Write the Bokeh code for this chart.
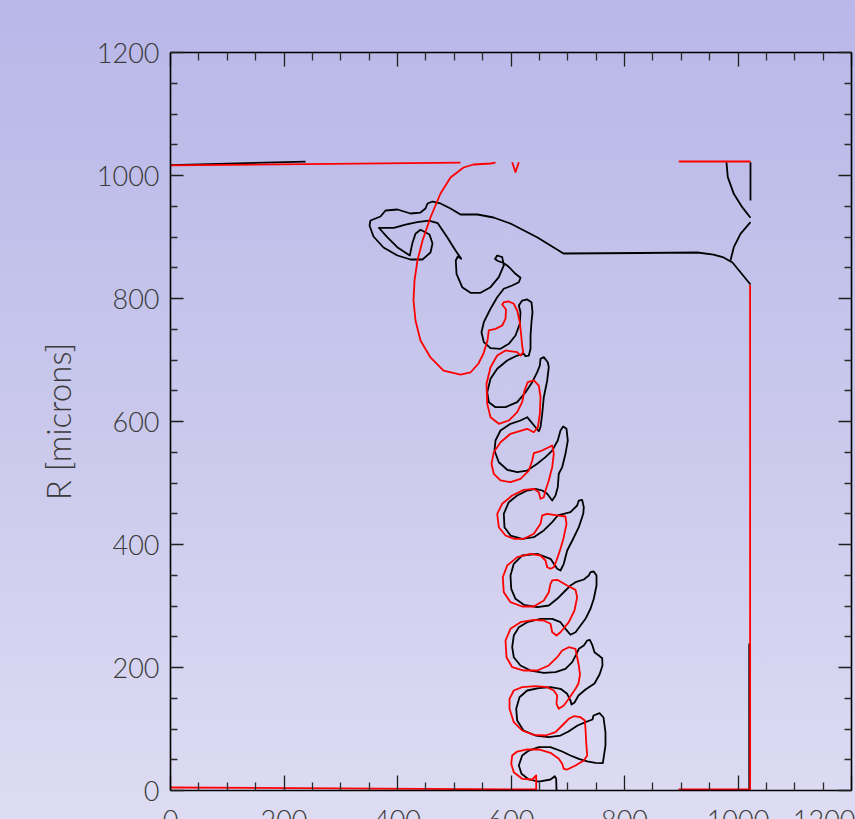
from bokeh.plotting import figure
from bokeh.models import LinearAxis, FixedTicker, Range1d
from bokeh.embed import file_html
from bokeh.resources import INLINE

# ---------------- data (microns) ----------------
TICKS = [0, 200, 400, 600, 800, 1000, 1200]
MINOR_TICKS = [50, 100, 150, 250, 300, 350, 450, 500, 550, 650, 700, 750,
               850, 900, 950, 1050, 1100, 1150]
AXIS_BOUNDS = (0, 1200)
Y_LABEL = "R [microns]"

black_interface = [
    (680.2, 0.0), (679.6, 19.0), (677.2, 23.3), (669.6, 17.9), (649.0, 14.6), (631.4, 17.9),
    (618.5, 27.2), (613.8, 40.7), (619.7, 56.9), (631.4, 65.0), (649.0, 70.4), (669.6, 70.4),
    (690.2, 63.4), (704.8, 56.9), (719.5, 51.5), (734.3, 47.2), (748.9, 45.0), (761.8, 44.4),
    (766.5, 73.2), (766.5, 94.3), (763.0, 118.7), (756.0, 125.7), (745.4, 122.0), (743.6, 115.4),
    (731.3, 111.1), (717.2, 105.7), (701.3, 95.9), (687.2, 89.4), (666.1, 86.7), (643.2, 89.4),
    (622.0, 97.6), (610.9, 113.8), (609.2, 132.8), (615.0, 151.7), (628.5, 162.6), (649.0, 166.3),
    (669.6, 168.0), (687.2, 165.4), (699.0, 157.2), (704.8, 146.3), (706.6, 139.8), (711.9, 143.1),
    (718.9, 154.5), (731.3, 164.2), (747.1, 174.0), (756.0, 188.6), (761.2, 203.3), (760.7, 215.1),
    (754.7, 219.5), (747.1, 224.9), (743.1, 236.9), (738.9, 245.0), (734.3, 243.9), (728.3, 235.8),
    (719.5, 230.4), (715.4, 222.3), (707.8, 208.6), (696.0, 197.9), (678.4, 192.4), (657.8, 191.4),
    (634.4, 195.1), (616.7, 203.3), (604.9, 216.7), (602.1, 233.0), (604.9, 252.0), (613.8, 265.5),
    (628.5, 273.7), (652.0, 279.2), (672.6, 279.2), (687.2, 273.7), (696.0, 262.9), (704.8, 253.2),
    (713.7, 257.4), (722.5, 268.3), (731.3, 279.2), (740.1, 295.5), (745.9, 311.7), (750.7, 333.3),
    (750.7, 349.6), (745.9, 356.1), (740.1, 355.0), (737.1, 349.6), (728.3, 343.1), (713.7, 338.7),
    (704.8, 333.3), (696.0, 325.2), (681.4, 311.7), (666.6, 300.8), (646.2, 298.0), (622.6, 302.0),
    (607.9, 311.7), (600.4, 328.0), (599.1, 349.6), (604.9, 368.6), (619.7, 382.1), (646.2, 384.9),
    (669.6, 376.7), (681.4, 360.5), (687.2, 357.7), (693.0, 368.6), (699.0, 390.2), (709.6, 409.3),
    (719.5, 428.1), (727.3, 449.9), (728.3, 460.7), (725.3, 472.7), (719.5, 471.5), (716.6, 463.4),
    (704.8, 452.5), (693.0, 449.9), (682.4, 447.2), (672.6, 436.3), (657.8, 422.8), (640.2, 411.9),
    (619.7, 409.3), (599.1, 414.6), (588.5, 428.1), (587.3, 449.9), (596.1, 468.8), (610.9, 479.7),
    (628.5, 487.8), (643.2, 490.6), (655.0, 487.8), (663.8, 482.4), (672.6, 471.5), (678.4, 479.7),
    (682.4, 493.2), (684.2, 515.0), (690.2, 525.7), (696.0, 547.5), (700.1, 569.1), (697.8, 588.1),
    (692.0, 591.9), (687.2, 585.4), (682.4, 569.1), (672.6, 552.8), (660.8, 542.0), (646.2, 531.2),
    (628.5, 520.3), (610.9, 517.6), (593.3, 521.5), (578.5, 533.8), (570.9, 552.8), (572.7, 569.1),
    (581.5, 585.4), (599.1, 596.3), (616.7, 601.6), (628.5, 607.0), (643.2, 590.7), (649.0, 584.2),
    (652.0, 590.7), (655.0, 612.5), (657.8, 639.5), (663.8, 666.7), (666.6, 688.3), (664.8, 696.4),
    (657.8, 704.6), (652.0, 701.9), (650.8, 691.1), (646.2, 680.2), (637.4, 663.9), (625.6, 647.6),
    (610.9, 631.4), (590.3, 623.3), (572.7, 623.3), (560.9, 631.4), (558.1, 647.6), (563.9, 669.4),
    (575.7, 685.7), (593.3, 699.2), (610.9, 707.3), (622.6, 710.1), (625.6, 706.2), (631.4, 707.3),
    (634.4, 718.2), (634.4, 739.8), (636.1, 761.5), (637.9, 777.7), (636.1, 794.0), (628.5, 798.4),
    (619.7, 796.7), (613.8, 788.6), (616.7, 777.7), (615.5, 758.9), (607.9, 739.8), (596.1, 726.3),
    (581.5, 718.2), (563.9, 719.2), (552.1, 729.0), (548.0, 745.2), (552.1, 761.5), (563.9, 783.3),
    (575.7, 802.1), (587.3, 815.8), (602.1, 821.1), (613.8, 826.5), (616.7, 833.7), (607.9, 840.2),
    (595.6, 852.0), (586.8, 857.7), (577.1, 861.0), (571.8, 864.2), (575.7, 869.9), (584.5, 867.2),
    (587.3, 853.7), (578.5, 834.7), (563.9, 818.4), (546.3, 809.3), (528.6, 809.3), (514.0, 818.4),
    (504.0, 840.2), (502.7, 861.8), (506.3, 868.3), (512.3, 864.6), (502.2, 878.1), (487.6, 899.7),
    (471.0, 922.4), (455.2, 926.8), (434.7, 924.1), (414.1, 920.3), (393.5, 915.0), (367.1, 915.0),
    (381.9, 899.7), (399.5, 883.4), (421.7, 869.9), (425.9, 888.9), (431.7, 905.2), (440.5, 911.7),
    (456.4, 904.1), (461.7, 889.4), (458.1, 874.8), (444.1, 863.4), (422.9, 863.4), (400.0, 869.9),
    (375.3, 882.9), (357.7, 900.8), (350.7, 918.7), (352.4, 926.8), (370.0, 933.3), (378.9, 943.1),
    (400.0, 944.7), (422.9, 938.2), (440.5, 939.8), (449.3, 946.3), (452.9, 954.5), (461.7, 957.7),
    (475.8, 954.5), (493.4, 946.3), (511.0, 936.6), (541.0, 936.6), (569.2, 931.7), (599.1, 921.9),
    (646.7, 899.2), (692.5, 873.2), (828.2, 874.0), (928.6, 874.8), (956.8, 871.5), (974.5, 866.7),
    (990.3, 858.5), (1022.0, 822.8),
]
black_top_left = [(0.0, 1017.0), (238.0, 1022.5)]
black_wall_top = [(1022.0, 1021.5), (1022.0, 959.4)]
black_arc_upper = [(979.7, 1021.5), (982.0, 997.4), (992.6, 970.2), (1007.4, 948.5), (1022.0, 931.2)]
black_arc_lower = [(1022.0, 924.1), (1004.4, 905.2), (992.6, 883.4), (986.8, 861.8)]
black_wall_bottom = [(1019.8, 0.0), (1019.8, 239.0)]

red_interface = [
    (0.0, 4.9), (644.4, 1.6), (644.4, 24.4), (637.4, 17.9), (619.7, 19.0), (604.9, 29.8),
    (600.4, 43.4), (602.1, 56.9), (610.9, 63.4), (628.5, 66.7), (649.0, 66.7), (669.6, 61.3),
    (684.2, 51.5), (690.2, 43.4), (693.0, 35.3), (699.0, 34.1), (713.7, 40.7), (728.3, 48.8),
    (734.3, 56.9), (732.5, 78.5), (731.3, 100.3), (730.1, 113.8), (722.5, 119.2), (710.7, 120.8),
    (701.8, 116.6), (690.2, 105.7), (678.4, 94.8), (660.8, 89.4), (640.2, 90.6), (619.7, 97.6),
    (604.9, 111.1), (597.4, 132.8), (597.4, 149.1), (604.9, 162.6), (619.7, 168.0), (643.2, 169.6),
    (663.8, 168.0), (675.4, 162.6), (681.4, 154.5), (680.2, 141.0), (684.2, 132.8), (693.0, 138.2),
    (701.8, 149.1), (713.7, 165.4), (718.9, 174.0), (721.6, 188.6), (719.5, 203.3), (716.6, 216.7),
    (713.7, 230.4), (701.8, 233.0), (690.2, 227.6), (681.4, 216.7), (666.6, 203.3), (646.2, 195.1),
    (622.6, 195.1), (602.1, 200.5), (592.1, 216.7), (590.3, 243.9), (599.1, 262.9), (616.7, 273.7),
    (640.2, 277.6), (657.8, 276.4), (669.6, 271.1), (672.6, 257.4), (680.2, 252.0), (687.2, 257.4),
    (701.8, 273.7), (711.9, 292.7), (716.6, 314.3), (713.7, 326.3), (699.0, 333.3), (681.4, 342.6),
    (672.6, 341.5), (669.6, 336.1), (666.6, 322.4), (657.8, 308.9), (640.2, 299.2), (619.7, 299.2),
    (599.1, 306.2), (587.3, 322.4), (585.5, 346.8), (593.3, 365.9), (610.9, 379.4), (634.4, 384.9),
    (652.0, 382.1), (660.8, 374.0), (663.8, 363.1), (669.6, 360.5), (675.4, 363.1), (680.2, 374.0),
    (687.2, 393.0), (693.0, 411.9), (697.8, 433.7), (696.0, 445.5), (681.4, 447.2), (663.8, 449.9),
    (655.0, 447.2), (652.0, 433.7), (640.2, 417.4), (622.6, 409.3), (604.9, 409.3), (590.3, 414.6),
    (578.5, 428.1), (575.7, 449.9), (584.5, 466.2), (602.1, 479.7), (622.6, 488.9), (640.2, 490.6),
    (649.0, 485.0), (652.0, 474.3), (657.8, 476.9), (660.8, 487.8), (666.6, 504.1), (672.6, 525.7),
    (675.4, 547.5), (672.6, 561.0), (666.6, 558.2), (652.0, 551.7), (640.2, 548.5), (637.4, 536.6),
    (631.4, 520.3), (616.7, 506.8), (599.1, 501.3), (581.5, 504.1), (569.7, 515.0), (565.6, 531.2),
    (569.7, 550.1), (581.5, 566.3), (599.1, 580.0), (628.5, 588.1), (640.2, 582.6), (647.4, 590.7),
    (650.8, 612.5), (652.0, 639.5), (649.0, 658.5), (640.2, 666.7), (629.6, 663.9), (623.8, 650.4),
    (619.7, 631.4), (610.9, 615.1), (596.1, 601.6), (578.5, 596.3), (563.9, 607.0), (558.1, 628.8),
    (556.8, 661.3), (563.9, 688.3), (575.7, 707.3), (590.3, 715.5), (610.9, 712.7), (616.7, 707.3),
    (621.5, 712.7), (619.7, 723.6), (618.0, 739.8), (615.5, 761.5), (610.9, 780.5), (604.9, 791.4),
    (596.1, 795.1), (587.3, 794.0), (584.5, 790.2), (591.2, 782.1), (590.3, 767.0), (584.5, 756.1),
    (572.7, 750.7), (560.9, 748.0), (558.6, 731.7), (551.5, 710.6), (542.7, 694.3), (528.6, 679.7),
    (511.0, 676.4), (481.1, 682.9), (458.1, 704.1), (440.5, 731.7), (431.7, 764.2), (428.2, 796.7),
    (430.0, 829.3), (435.2, 861.8), (444.1, 894.3), (458.1, 931.7), (475.8, 970.7), (493.4, 996.8),
    (516.3, 1013.0), (533.9, 1017.9), (563.9, 1019.5), (572.7, 1021.1),
]
red_top_left = [(0.0, 1016.5), (511.0, 1021.0)]
red_v = [(602.1, 1021.6), (607.9, 1005.4), (613.8, 1021.6)]
red_top_right = [(895.7, 1022.8), (1022.0, 1022.8)]
red_wall = [(1021.3, 822.0), (1021.3, 1.6), (895.2, 1.6)]

# ---------------- layout ----------------
W, H = 855, 819
BOX_LEFT, BOX_RIGHT, BOX_TOP, BOX_BOTTOM = 170, 851, 52, 790   # pixel box of the axes
px_per_x = (BOX_RIGHT - BOX_LEFT) / (AXIS_BOUNDS[1] - AXIS_BOUNDS[0])
px_per_y = (BOX_BOTTOM - BOX_TOP) / (AXIS_BOUNDS[1] - AXIS_BOUNDS[0])
# the plotting frame fills the whole canvas; the axes are pinned to the box,
# so the x tick labels can run past the lower edge of the window as in the original
x_start = AXIS_BOUNDS[0] - BOX_LEFT / px_per_x
x_end = AXIS_BOUNDS[1] + (W - BOX_RIGHT) / px_per_x
y_start = AXIS_BOUNDS[0] - (H - BOX_BOTTOM) / px_per_y
y_end = AXIS_BOUNDS[1] + BOX_TOP / px_per_y

TEXT_COLOR = "#3a3a3a"
FONT = "Lato Light"

p = figure(width=W, height=H, x_range=Range1d(x_start, x_end), y_range=Range1d(y_start, y_end),
           x_axis_type=None, y_axis_type=None, output_backend="svg", toolbar_location=None,
           min_border_left=0, min_border_right=0, min_border_top=0, min_border_bottom=0)
p.background_fill_alpha = 0
p.border_fill_alpha = 0
p.outline_line_color = None
p.styles = {"background": "linear-gradient(to bottom, #b8b7e8 0%, #c9c8ec 50%, #dedcf3 100%)"}


def make_axis(tick_in, minor_in, show_labels, **kw):
    ax = LinearAxis(ticker=FixedTicker(ticks=TICKS, minor_ticks=MINOR_TICKS), bounds=AXIS_BOUNDS, **kw)
    ax.axis_line_color = "black"
    ax.axis_line_width = 1.6
    ax.major_tick_out = 0
    ax.minor_tick_out = 0
    ax.major_tick_in = tick_in
    ax.minor_tick_in = minor_in
    ax.major_tick_line_color = "#1e1e1e"
    ax.major_tick_line_width = 1.3
    ax.minor_tick_line_color = "#2a2a2a"
    ax.minor_tick_line_width = 1.3
    ax.major_label_text_font = FONT
    ax.major_label_text_font_size = "27px"
    ax.major_label_text_color = TEXT_COLOR if show_labels else None
    return ax


left = make_axis(13, 7, True, axis_label=Y_LABEL, fixed_location=AXIS_BOUNDS[0])
left.major_label_standoff = 11
left.axis_label_text_font = FONT
left.axis_label_text_font_size = "33px"
left.axis_label_text_font_style = "normal"
left.axis_label_text_color = TEXT_COLOR
left.axis_label_standoff = 16
p.add_layout(left, "left")

bottom = make_axis(15, 8, True, fixed_location=AXIS_BOUNDS[0])
bottom.major_label_standoff = 19
p.add_layout(bottom, "below")

top = make_axis(14, 8, False, fixed_location=AXIS_BOUNDS[1])
p.add_layout(top, "above")

right = make_axis(13, 7, False, fixed_location=AXIS_BOUNDS[1])
p.add_layout(right, "right")


def draw(points, color, width=1.8):
    xs = [pt[0] for pt in points]
    ys = [pt[1] for pt in points]
    p.line(xs, ys, line_color=color, line_width=width, line_join="round")


for seg in (black_top_left, black_wall_top, black_arc_upper, black_arc_lower,
            black_wall_bottom, black_interface):
    draw(seg, "black")
for seg in (red_top_left, red_v, red_top_right, red_wall, red_interface):
    draw(seg, "#ff0000")

open("out.html", "w").write(file_html(p, INLINE, title="interface"))
